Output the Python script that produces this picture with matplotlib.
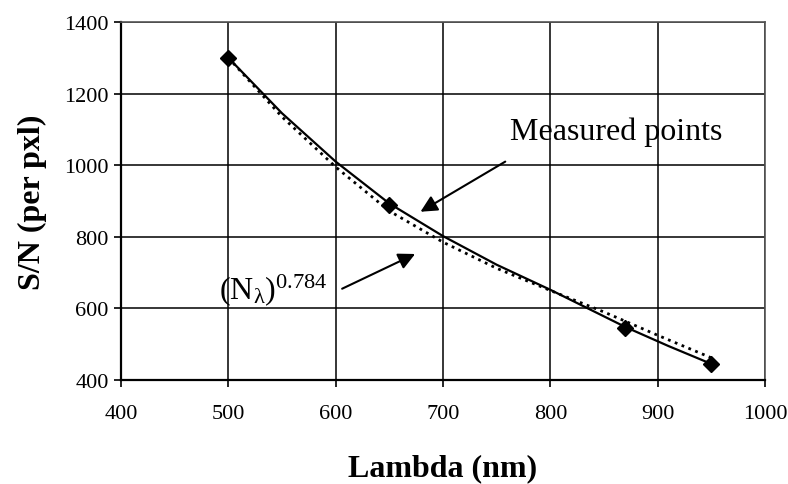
"""
S/N versus wavelength, measured points with smooth curve and power-law fit
"""
import matplotlib.pyplot as plt

plt.rcParams['font.family'] = ['Liberation Serif', 'DejaVu Serif']

# measured points
lam_pts = [500, 650, 870, 950]
sn_pts = [1300, 890, 545, 445]

# smooth curve through the measured points
lam_curve = [500, 550, 600, 650, 700, 750, 800, 870, 910, 950]
sn_curve = [1300, 1145, 1010, 893, 802, 722, 652, 548, 495, 445]

# (N_lambda)^0.784 fit, dotted
lam_fit = [500, 550, 600, 650, 700, 750, 800, 850, 900, 950]
sn_fit = [1300, 1135, 995, 872, 785, 712, 650, 590, 525, 462]

x_ticks = [400, 500, 600, 700, 800, 900, 1000]
y_ticks = [400, 600, 800, 1000, 1200, 1400]

fig = plt.figure(figsize=(7.88, 4.85), dpi=100)
ax = fig.add_axes([0.1536, 0.2144, 0.8172, 0.7382])

ax.set_xlim(400, 1000)
ax.set_ylim(400, 1400)
ax.set_xticks(x_ticks)
ax.set_yticks(y_ticks)
ax.grid(True, color='black', linewidth=1.1)
ax.set_axisbelow(True)

ax.plot(lam_curve, sn_curve, '-', color='black', linewidth=1.6, zorder=3)
ax.plot(lam_fit, sn_fit, ':', color='black', linewidth=2.0, zorder=3)
ax.plot(lam_pts, sn_pts, 'D', color='black', markersize=8, zorder=4)

for side in ['left', 'bottom']:
    ax.spines[side].set_linewidth(1.6)
for side in ['top', 'right']:
    ax.spines[side].set_linestyle((0, (3, 1)))
    ax.spines[side].set_color('#555555')
    ax.spines[side].set_linewidth(1.2)

ax.tick_params(direction='out', length=5, width=1.2, labelsize=16)
ax.tick_params(axis='x', pad=12)
ax.tick_params(axis='y', pad=4)
ax.set_xlabel("Lambda (nm)", fontsize=23, fontweight='bold', labelpad=22)
ax.set_ylabel("S/N (per pxl)", fontsize=23, fontweight='bold', labelpad=12)

ax.text(762, 1096, "Measured points", fontsize=23, va='center', ha='left')
ax.annotate("", xy=(679, 870), xytext=(758, 1010),
            arrowprops=dict(arrowstyle='-|>', color='black', lw=1.5,
                            mutation_scale=25, shrinkA=0, shrinkB=0))
ax.text(592, 655, r"$\mathregular{(N_\lambda)^{0.784}}$", fontsize=23,
        va='center', ha='right')
ax.annotate("", xy=(674, 752), xytext=(606, 655),
            arrowprops=dict(arrowstyle='-|>', color='black', lw=1.5,
                            mutation_scale=25, shrinkA=0, shrinkB=0))

fig.savefig("out.png", dpi=100)
